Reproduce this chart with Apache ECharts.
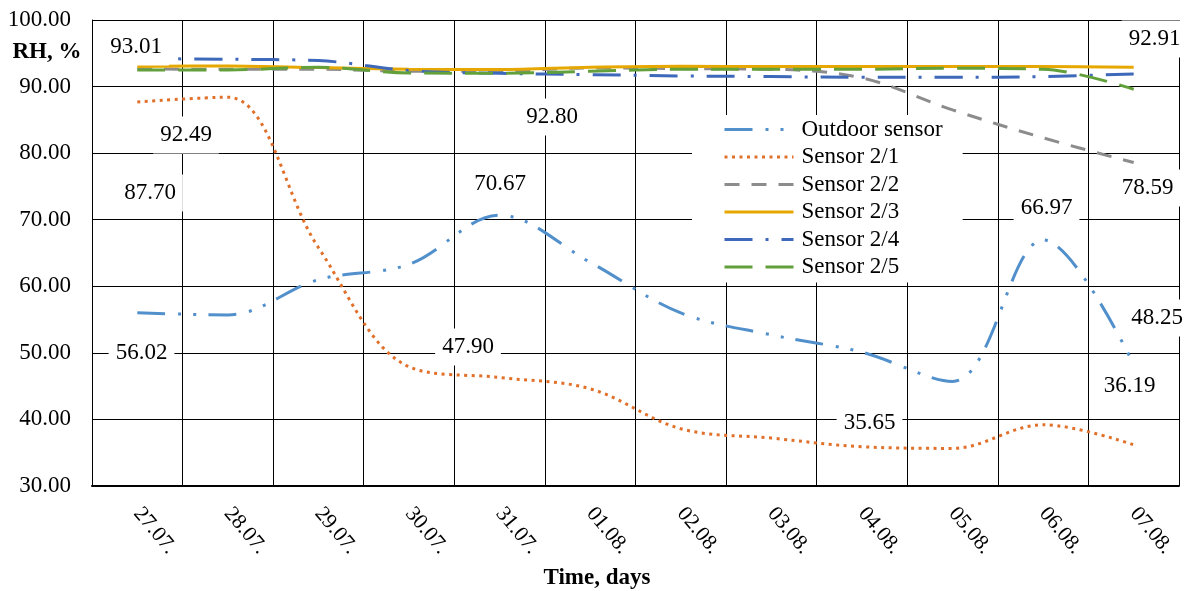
<!DOCTYPE html>
<html><head><meta charset="utf-8">
<script src="https://cdn.jsdelivr.net/npm/echarts@6/dist/echarts.min.js"></script>
<style>html,body{margin:0;padding:0;background:#fff}#c{width:1189px;height:591px}</style>
</head><body><div id="c"></div>
<script>
const categories = ['27.07.','28.07.','29.07.','30.07.','31.07.','01.08.','02.08.','03.08.','04.08.','05.08.','06.08.','07.08.'];
const outdoor  = [56.02, 55.7, 61.0, 63.3, 70.67, 63.6, 56.0, 52.7, 50.1, 45.7, 66.97, 48.25];
const sensor21 = [87.70, 88.4, 65.8, 47.90, 46.3, 44.6, 38.6, 37.2, 35.9, 35.65, 39.2, 36.19];
const sensor22 = [92.65, 92.6, 92.6, 92.3, 92.3, 92.80, 92.7, 92.6, 91.3, 86.5, 82.3, 78.59];
const sensor23 = [93.01, 93.1, 92.85, 92.6, 92.55, 92.9, 93.05, 93.0, 93.0, 93.0, 93.0, 92.91];
const sensor24 = [94.2, 94.1, 93.9, 92.4, 92.0, 91.8, 91.6, 91.5, 91.4, 91.4, 91.5, 91.9];
const sensor25 = [92.49, 92.5, 92.9, 92.05, 92.0, 92.3, 92.6, 92.6, 92.6, 92.75, 92.6, 89.6];
const seriesNames = ['Outdoor sensor','Sensor 2/1','Sensor 2/2','Sensor 2/3','Sensor 2/4','Sensor 2/5'];
const yMin = 30, yMax = 100, yStep = 10;
const valueLabels = ['93.01','92.49','87.70','56.02','92.80','70.67','47.90','35.65','66.97','48.25','36.19','92.91','78.59'];
const yTitle = 'RH, %';
const xTitle = 'Time, days';

const FONT = '"Liberation Serif", "Times New Roman", serif';
const labelPos = [[136,47],[186,135],[150,193],[141.5,353],[552,117],[500,184],[468,347],[869.5,423],[1046.5,208],[1157,318],[1129.5,386],[1154.5,39],[1147.5,188]];

const styles = [
  {color:'#5290CC', type:[28,13,3,12,3,12]},
  {color:'#E0702A', type:[3,4.5]},
  {color:'#8C8C8C', type:[15,12]},
  {color:'#E6A800', type:'solid'},
  {color:'#3E68B9', type:[28,13,3,13]},
  {color:'#62A03C', type:[28,13]}
];
const datasets = [outdoor, sensor21, sensor22, sensor23, sensor24, sensor25];

const chart = echarts.init(document.getElementById('c'), null, {renderer:'canvas'});
const graphics = valueLabels.map((t,i)=>({
  type:'text', x: labelPos[i][0], y: labelPos[i][1], z: 100,
  style:{text:t, font:'23px '+FONT, fill:'#000', align:'center', verticalAlign:'middle',
         backgroundColor:'#fff', padding:[7,7]}
}));
graphics.push({type:'text', x:47, y:52, z:100, style:{text:yTitle, font:'bold 23px '+FONT, fill:'#000', align:'center', verticalAlign:'middle'}});
graphics.push({type:'text', x:597, y:578, z:100, style:{text:xTitle, font:'bold 23px '+FONT, fill:'#000', align:'center', verticalAlign:'middle'}});

chart.setOption({
  animation:false,
  backgroundColor:'#fff',
  grid:{left:92, right:10, top:20, bottom:105, containLabel:false},
  xAxis:{
    type:'category', data:categories, boundaryGap:true,
    axisLine:{show:true, lineStyle:{color:'#000', width:2}},
    axisTick:{show:false},
    splitLine:{show:true, interval:0, lineStyle:{color:'#000', width:1}},
    axisLabel:{rotate:-50, margin:24, fontFamily:FONT, fontSize:21.5, color:'#000', interval:0}
  },
  yAxis:{
    type:'value', min:yMin, max:yMax, interval:yStep,
    axisLine:{show:true, lineStyle:{color:'#000', width:1}},
    axisTick:{show:false},
    splitLine:{show:true, lineStyle:{color:'#000', width:1}},
    axisLabel:{margin:21, fontFamily:FONT, fontSize:23, color:'#000', formatter:v=>v.toFixed(2)}
  },
  legend:{
    orient:'vertical', left:692, top:115,
    padding:[1,20,2,31], backgroundColor:'#fff',
    itemWidth:69, itemHeight:14, itemGap:0.5,
    itemStyle:{color:'rgba(0,0,0,0)', borderColor:'rgba(0,0,0,0)', borderWidth:0},
    lineStyle:{width:3},
    textStyle:{fontFamily:FONT, fontSize:23, color:'#000', lineHeight:27, padding:[0,0,0,3]},
    data:seriesNames
  },
  series: seriesNames.map((n,i)=>({
    name:n, type:'line', data:datasets[i], smooth:0.35, symbol:'none', showSymbol:false,
    lineStyle:{color:styles[i].color, width:3, type:styles[i].type, cap:'butt'},
    itemStyle:{color:styles[i].color}
  })),
  graphic: graphics
});
</script>
</body></html>
